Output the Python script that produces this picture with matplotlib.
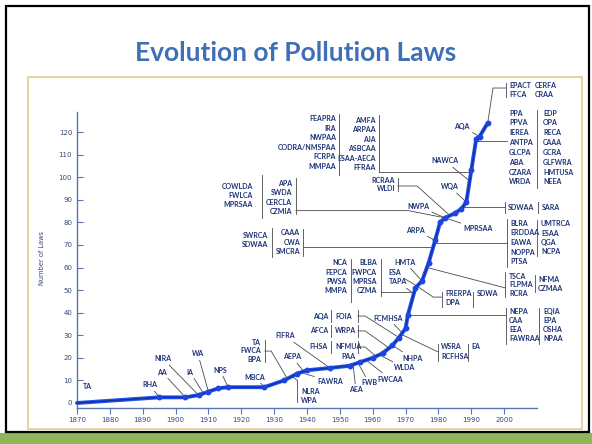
import numpy as np
import matplotlib
matplotlib.use("Agg")
import matplotlib.pyplot as plt
from matplotlib.patches import Rectangle

# Cumulative number of U.S. pollution laws by year
years = [1870, 1895, 1903, 1907, 1910, 1913, 1916, 1927, 1933, 1937, 1940,
         1947, 1953, 1956, 1960, 1963, 1966, 1968, 1970, 1970.7, 1973, 1975,
         1977, 1979, 1980.5, 1982, 1985, 1987, 1988.5, 1990, 1991.5, 1992.5, 1995]
laws = [0, 2.5, 2.5, 3.5, 5, 6.5, 7, 7, 10, 13, 14.5,
        15.5, 16.5, 18, 20, 22, 25.5, 29, 33, 39, 51, 54,
        62, 72, 80, 82, 84, 86, 89, 103, 117, 118, 124]

x_ticks = list(range(1870, 2001, 10))
y_ticks = list(range(0, 121, 10))
title = "Evolution of Pollution Laws"
y_title = "Number of Laws"

# single acts: name, label position, year where the leader meets the curve
single_acts = [
    ("RHA", 1892.2, 8.0, 1895), ("AA", 1895.9, 13.7, 1903),
    ("NIRA", 1896.2, 19.5, 1907), ("IA", 1904.4, 13.7, 1908.5),
    ("WA", 1906.8, 21.7, 1910), ("NPS", 1913.5, 14.6, 1916),
    ("MBCA", 1924.2, 11.5, 1927), ("FIFRA", 1933.3, 29.7, 1947),
    ("AEPA", 1935.4, 20.4, 1939), ("FAWRA", 1947.0, 9.7, 1938),
    ("PAA", 1952.5, 20.4, 1956), ("AEA", 1954.9, 5.8, 1954),
    ("FWB", 1958.9, 8.9, 1955.5), ("FWCAA", 1965.3, 10.6, 1958),
    ("WLDA", 1969.8, 15.5, 1962), ("NHPA", 1972.0, 19.9, 1966),
    ("FCMHSA", 1964.7, 37.6, 1969), ("HMTA", 1969.8, 62.4, 1975),
    ("ESA", 1966.8, 57.6, 1973.5), ("TAPA", 1967.7, 53.6, 1972.5),
    ("ARPA", 1972.9, 76.6, 1979), ("NWPA", 1973.8, 87.2, 1982),
    ("MPRSAA", 1992.1, 77.1, 1982), ("WQA", 1983.5, 95.7, 1988.5),
    ("NAWCA", 1982.0, 107.2, 1989.5), ("AQA", 1987.2, 122.5, 1992.5),
]

# stacked act lists: names, alignment, text x, first line y, line step
columns = [
    (["FEAPRA", "IRA", "NWPAA", "CODRA/NMSPAA", "FCRPA", "MMPAA"], "right", 1948.9, 125.8, 4.2),
    (["AMFA", "ARPAA", "AJA", "ASBCAA", "ESAA-AECA", "FFRAA"], "right", 1961.0, 125.3, 4.2),
    (["COWLDA", "FWLCA", "MPRSAA"], "right", 1923.6, 95.7, 4.0),
    (["APA", "SWDA", "CERCLA", "CZMIA"], "right", 1935.4, 97.4, 4.25),
    (["SWRCA", "SDWAA"], "right", 1928.1, 74.0, 4.0),
    (["CAAA", "CWA", "SMCRA"], "right", 1937.9, 75.3, 4.2),
    (["NCA", "FEPCA", "PWSA", "MMPA"], "right", 1952.2, 62.0, 4.1),
    (["BLBA", "FWPCA", "MPRSA", "CZMA"], "right", 1961.3, 62.0, 4.1),
    (["RCRAA", "WLDI"], "right", 1966.8, 98.5, 3.4),
    (["AQA", "AFCA"], "right", 1946.4, 38.5, 6.6),
    (["FOIA", "WRPA"], "left", 1948.5, 38.5, 6.6),
    (["FHSA"], "right", 1946.4, 24.8, 4.0),
    (["NFMUA"], "left", 1948.5, 24.8, 4.0),
    (["TA", "FWCA", "BPA"], "right", 1926.0, 27.0, 3.8),
    (["NLRA", "WPA"], "left", 1938.2, 5.3, 4.0),
    (["WSRA", "RCFHSA"], "left", 1980.8, 24.8, 4.4),
    (["EA"], "left", 1989.9, 24.8, 4.0),
    (["FRERPA", "DPA"], "left", 1982.0, 48.7, 4.4),
    (["SDWA"], "left", 1991.8, 48.7, 4.0),
    (["NEPA", "CAA", "EEA", "FAWRAA"], "left", 2001.5, 40.7, 4.1),
    (["EQIA", "EPA", "OSHA", "NPAA"], "left", 2011.9, 40.7, 4.1),
    (["TSCA", "FLPMA", "RCRA"], "left", 2001.5, 56.2, 3.75),
    (["NFMA", "CZMAA"], "left", 2010.3, 54.9, 4.0),
    (["BLRA", "ERDDAA", "EAWA", "NOPPA", "PTSA"], "left", 2001.8, 79.7, 4.3),
    (["UMTRCA", "ESAA", "QGA", "NCPA"], "left", 2011.2, 79.3, 4.1),
    (["SDWAA"], "left", 2001.2, 86.8, 4.0),
    (["SARA"], "left", 2011.6, 86.8, 4.0),
    (["PPA", "PPVA", "IEREA", "ANTPA", "GLCPA", "ABA", "CZARA", "WRDA"], "left", 2001.5, 128.4, 4.35),
    (["EDP", "OPA", "RECA", "CAAA", "GCRA", "GLFWRA", "HMTUSA", "NEEA"], "left", 2011.9, 128.4, 4.35),
    (["EPACT", "FFCA"], "left", 2001.5, 140.8, 4.0),
    (["CERFA", "CRAA"], "left", 2009.4, 140.8, 4.0),
]

# bracket bars: x, y from, y to
brackets = [
    (1949.7, 101.0, 128.0), (1961.9, 102.3, 127.5), (1926.3, 81.9, 101.0),
    (1936.7, 83.7, 99.6), (1929.4, 64.7, 77.5), (1938.8, 65.1, 77.1),
    (1953.4, 44.7, 63.8), (1962.4, 47.4, 63.8), (1967.7, 93.9, 99.6),
    (1947.3, 35.8, 41.2), (1955.5, 35.8, 41.2), (1947.3, 29.2, 34.6),
    (1955.5, 29.2, 34.6), (1947.3, 22.1, 27.4), (1955.5, 22.1, 27.4),
    (1927.2, 18.2, 27.9), (1937.0, 0.4, 10.0), (1979.9, 18.6, 26.1),
    (1989.0, 18.6, 26.1), (1981.1, 42.5, 49.2), (1990.5, 42.5, 49.2),
    (2000.6, 26.1, 42.1), (2010.6, 26.1, 42.1), (2000.3, 46.9, 58.0),
    (2009.4, 49.2, 56.7), (2000.9, 60.2, 81.5), (2010.0, 65.1, 81.0),
    (2000.3, 84.1, 89.0), (2010.3, 84.1, 89.0), (2010.0, 95.2, 129.8),
    (2000.6, 135.5, 141.7),
]

# connectors from a bracket to the curve: bend points, then the year on the curve
connectors = [
    ([(1936.7, 85.2), (1970.8, 85.2)], 1982),
    ([(1967.7, 96.1), (1973.5, 96.1)], 1983.5),
    ([(1955.5, 38.5), (1957.7, 38.5)], 1968),
    ([(1955.5, 31.9), (1957.7, 31.9)], 1965),
    ([(1955.5, 24.8), (1957.7, 24.8)], 1961),
    ([(1927.2, 23.0), (1929.1, 23.0)], 1934),
    ([(1937.0, 10.0)], 1935.5),
    ([(1979.9, 22.6)], 1968.7),
    ([(1981.1, 46.9), (1978.4, 46.9)], 1973.5),
    ([(2000.3, 51.0)], 1976.5),
    ([(2000.6, 139.5), (1996.6, 139.5)], 1995),
]
# horizontal links at a given count from the curve to a bracket at x
level_links = [(1961.9, 102.3), (1938.8, 69.1), (1962.4, 49.0),
               (2000.6, 39.0), (2000.9, 70.9), (2000.3, 87.0), (2000.9, 116.0)]

W, H = 592, 444
fig = plt.figure(figsize=(W / 100, H / 100), dpi=100)
fig.patch.set_facecolor("white")


def fig_rect(x0, y0, x1, y1, **kw):
    r = Rectangle((x0 / W, 1 - y1 / H), (x1 - x0) / W, (y1 - y0) / H,
                  transform=fig.transFigure, **kw)
    fig.add_artist(r)


# slide frame, footer band and picture frame
fig_rect(0, 433, W, H, facecolor="#8db55c", edgecolor="none", zorder=-3)
fig_rect(6, 6, 589, 432, facecolor="white", edgecolor="black", lw=1.6, zorder=-3)
fig_rect(28, 77, 582, 429, facecolor="white", edgecolor="#e8c88e", lw=1.2, zorder=-2)

fig.text(0.5, 1 - 53 / H, title, ha="center", va="center", fontsize=19,
         fontweight="bold", color="#3e6fb8", family=["Lato", "DejaVu Sans"])

ax = fig.add_axes([77 / W, (H - 407.5) / H, 460 / W, 331.9 / H])
ax.set_zorder(5)
ax.patch.set_alpha(0)

axis_col = "#5877aa"
tick_col = "#34497a"
txt_col = "#1c3276"
lead_col = "#4a4a4a"
tfont = dict(family=["Lato", "DejaVu Sans"], fontsize=5.0,
             fontweight="bold", color=txt_col)


def count_at(yr):
    return float(np.interp(yr, years, laws))


def year_at(c):
    return float(np.interp(c, laws, years))


ax.plot(years, laws, color="#2050f0", lw=2.8, solid_capstyle="round",
        solid_joinstyle="round", zorder=5, clip_on=False)
ax.plot(years, laws, color="#14309c", lw=1.0, zorder=6, clip_on=False)
ax.plot(years[1:], laws[1:], "o", ms=3.2, color="#1d45e0", zorder=7, clip_on=False)

for name, tx, ty, yr in single_acts:
    ax.annotate(name, xy=(yr, count_at(yr)), xytext=(tx, ty), textcoords="data",
                ha="center", va="center", annotation_clip=False,
                arrowprops=dict(arrowstyle="-", color=lead_col, lw=0.6,
                                shrinkA=0, shrinkB=0), **tfont)
ax.text(1873.3, 7.1, "TA", ha="center", va="center", **tfont)

for names, ha, tx, ty, step in columns:
    for i, n in enumerate(names):
        ax.text(tx, ty - i * step, n, ha=ha, va="center", **tfont)

for bx, y0, y1 in brackets:
    ax.plot([bx, bx], [y0, y1], color=lead_col, lw=0.6, clip_on=False, zorder=3)

for pts, yr in connectors:
    xs = [p[0] for p in pts] + [yr]
    ys = [p[1] for p in pts] + [count_at(yr)]
    ax.plot(xs, ys, color=lead_col, lw=0.6, clip_on=False, zorder=3)

for bx, c in level_links:
    ax.plot([year_at(c), bx], [c, c], color=lead_col, lw=0.6, clip_on=False, zorder=3)

ax.set_xlim(1870, 2010)
ax.set_ylim(-2, 145)
for s in ("top", "right"):
    ax.spines[s].set_visible(False)
for s in ("left", "bottom"):
    ax.spines[s].set_color(axis_col)
    ax.spines[s].set_linewidth(1.0)
ax.spines["left"].set_bounds(-2, 129)
ax.spines["bottom"].set_bounds(1870, 2010)

ax.set_xticks(x_ticks)
ax.set_yticks(y_ticks)
ax.tick_params(axis="x", direction="out", length=4, width=0.8, color=axis_col,
               labelsize=5, labelcolor=tick_col, pad=2.5)
ax.tick_params(axis="y", direction="in", length=4, width=0.8, color=axis_col,
               labelsize=5, labelcolor=tick_col, pad=3.5)
ax.set_ylabel(y_title, fontsize=4.8, color=tick_col)
ax.yaxis.set_label_coords(-0.07, 0.45)

fig.savefig("out.png", dpi=100)
